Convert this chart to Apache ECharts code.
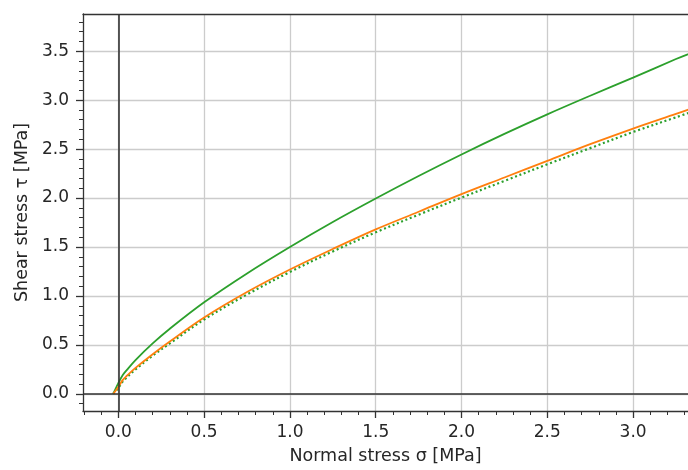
<!doctype html>
<html>
<head>
<meta charset="utf-8">
<title>shear-normal stress</title>
<style>
	html,body{height:100%;padding:0;margin:0;background:#fff;}
</style>
</head>
<body>
<div style="width:688px;height:470px;" id="chart"></div>
<script src="https://cdn.jsdelivr.net/npm/echarts@6/dist/echarts.min.js"></script>
<script>
// normal stress sigma [MPa]
var sigma = [-0.03, 0, 0.025, 0.05, 0.1, 0.2, 0.3, 0.5, 0.75, 1.0, 1.25, 1.5, 1.75, 2.0, 2.25, 2.5, 2.75, 3.0, 3.25, 3.35];
// shear stress tau [MPa]
var tauGreen  = [0, 0.11, 0.19, 0.245, 0.345, 0.515, 0.665, 0.935, 1.23, 1.5, 1.755, 1.995, 2.225, 2.445, 2.655, 2.855, 3.045, 3.23, 3.42, 3.49];
var tauOrange = [0, 0.07, 0.14, 0.185, 0.265, 0.405, 0.535, 0.78, 1.04, 1.27, 1.48, 1.68, 1.86, 2.04, 2.21, 2.38, 2.55, 2.71, 2.86, 2.92];
var tauDotted = [0, 0.06, 0.125, 0.17, 0.25, 0.39, 0.515, 0.76, 1.015, 1.245, 1.455, 1.65, 1.83, 2.005, 2.175, 2.345, 2.51, 2.675, 2.825, 2.885];

var xMajor = [0, 0.5, 1.0, 1.5, 2.0, 2.5, 3.0];
var yMajor = [0, 0.5, 1.0, 1.5, 2.0, 2.5, 3.0, 3.5];
var xMinor = [], yMinor = [];
for (var i = -2; i <= 33; i++) { xMinor.push(i / 10); }
for (var j = -1; j <= 38; j++) { yMinor.push(j / 10); }

var xMin = -0.206, xMax = 3.32;
var yMin = -0.175, yMax = 3.88;

function pairs(xs, ys) {
	var out = [];
	for (var k = 0; k < xs.length; k++) { out.push([xs[k], ys[k]]); }
	return out;
}

var font = 'DejaVu Sans';
var ink = '#262626';
var spine = '#333';
var labelStyle = {fontSize: 17, color: ink, fontFamily: font};

var myChart = echarts.init(document.getElementById('chart'), null, {renderer: 'canvas'});
var option = {
	animation: false,
	grid: {left: 83, right: -11, top: 14, bottom: 56},
	xAxis: [
		{
			type: 'value', min: xMin, max: xMax, position: 'bottom',
			name: 'Normal stress σ [MPa]', nameLocation: 'middle', nameGap: 36,
			nameTextStyle: {fontSize: 17.5, color: ink, fontFamily: font},
			axisLine: {show: true, onZero: false, lineStyle: {color: spine, width: 1.3}},
			axisTick: {show: true, customValues: xMajor, length: 7, lineStyle: {color: spine, width: 1.3}},
			axisLabel: Object.assign({customValues: xMajor, margin: 13, formatter: function (v) { return v.toFixed(1); }}, labelStyle),
			splitLine: {show: true, lineStyle: {color: '#cccccc', width: 1.3}}
		},
		{
			type: 'value', min: xMin, max: xMax, position: 'bottom',
			axisLine: {show: false, onZero: false},
			axisTick: {show: true, customValues: xMinor, length: 4, lineStyle: {color: spine, width: 1}},
			axisLabel: {show: false},
			splitLine: {show: false}
		},
		{
			type: 'value', min: xMin, max: xMax, position: 'top',
			axisLine: {show: true, onZero: false, lineStyle: {color: spine, width: 1.3}},
			axisTick: {show: false}, axisLabel: {show: false}, splitLine: {show: false}
		}
	],
	yAxis: [
		{
			type: 'value', min: yMin, max: yMax, position: 'left',
			name: 'Shear stress τ [MPa]', nameLocation: 'middle', nameGap: 51,
			nameTextStyle: {fontSize: 17.5, color: ink, fontFamily: font},
			axisLine: {show: true, onZero: false, lineStyle: {color: spine, width: 1.3}},
			axisTick: {show: true, customValues: yMajor, length: 7, lineStyle: {color: spine, width: 1.3}},
			axisLabel: Object.assign({customValues: yMajor, margin: 14, formatter: function (v) { return v.toFixed(1); }}, labelStyle),
			splitLine: {show: true, lineStyle: {color: '#cccccc', width: 1.3}}
		},
		{
			type: 'value', min: yMin, max: yMax, position: 'left',
			axisLine: {show: false, onZero: false},
			axisTick: {show: true, customValues: yMinor, length: 4, lineStyle: {color: spine, width: 1}},
			axisLabel: {show: false},
			splitLine: {show: false}
		}
	],
	series: [
		{
			type: 'line', data: pairs(sigma, tauGreen), showSymbol: false,
			smooth: 0.35,
			lineStyle: {color: '#2ca02c', width: 1.8},
			markLine: {
				silent: true, symbol: 'none', label: {show: false},
				lineStyle: {color: '#333', width: 1.6, type: 'solid'},
				data: [{xAxis: 0}, {yAxis: 0}]
			}
		},
		{
			type: 'line', data: pairs(sigma, tauDotted), showSymbol: false,
			smooth: 0.35,
			lineStyle: {color: '#2ca02c', width: 2.2, type: [2, 2.7]}
		},
		{
			type: 'line', data: pairs(sigma, tauOrange), showSymbol: false,
			smooth: 0.35,
			lineStyle: {color: '#ff7f0e', width: 1.8}
		}
	]
};
myChart.setOption(option);
</script>
</body>
</html>
